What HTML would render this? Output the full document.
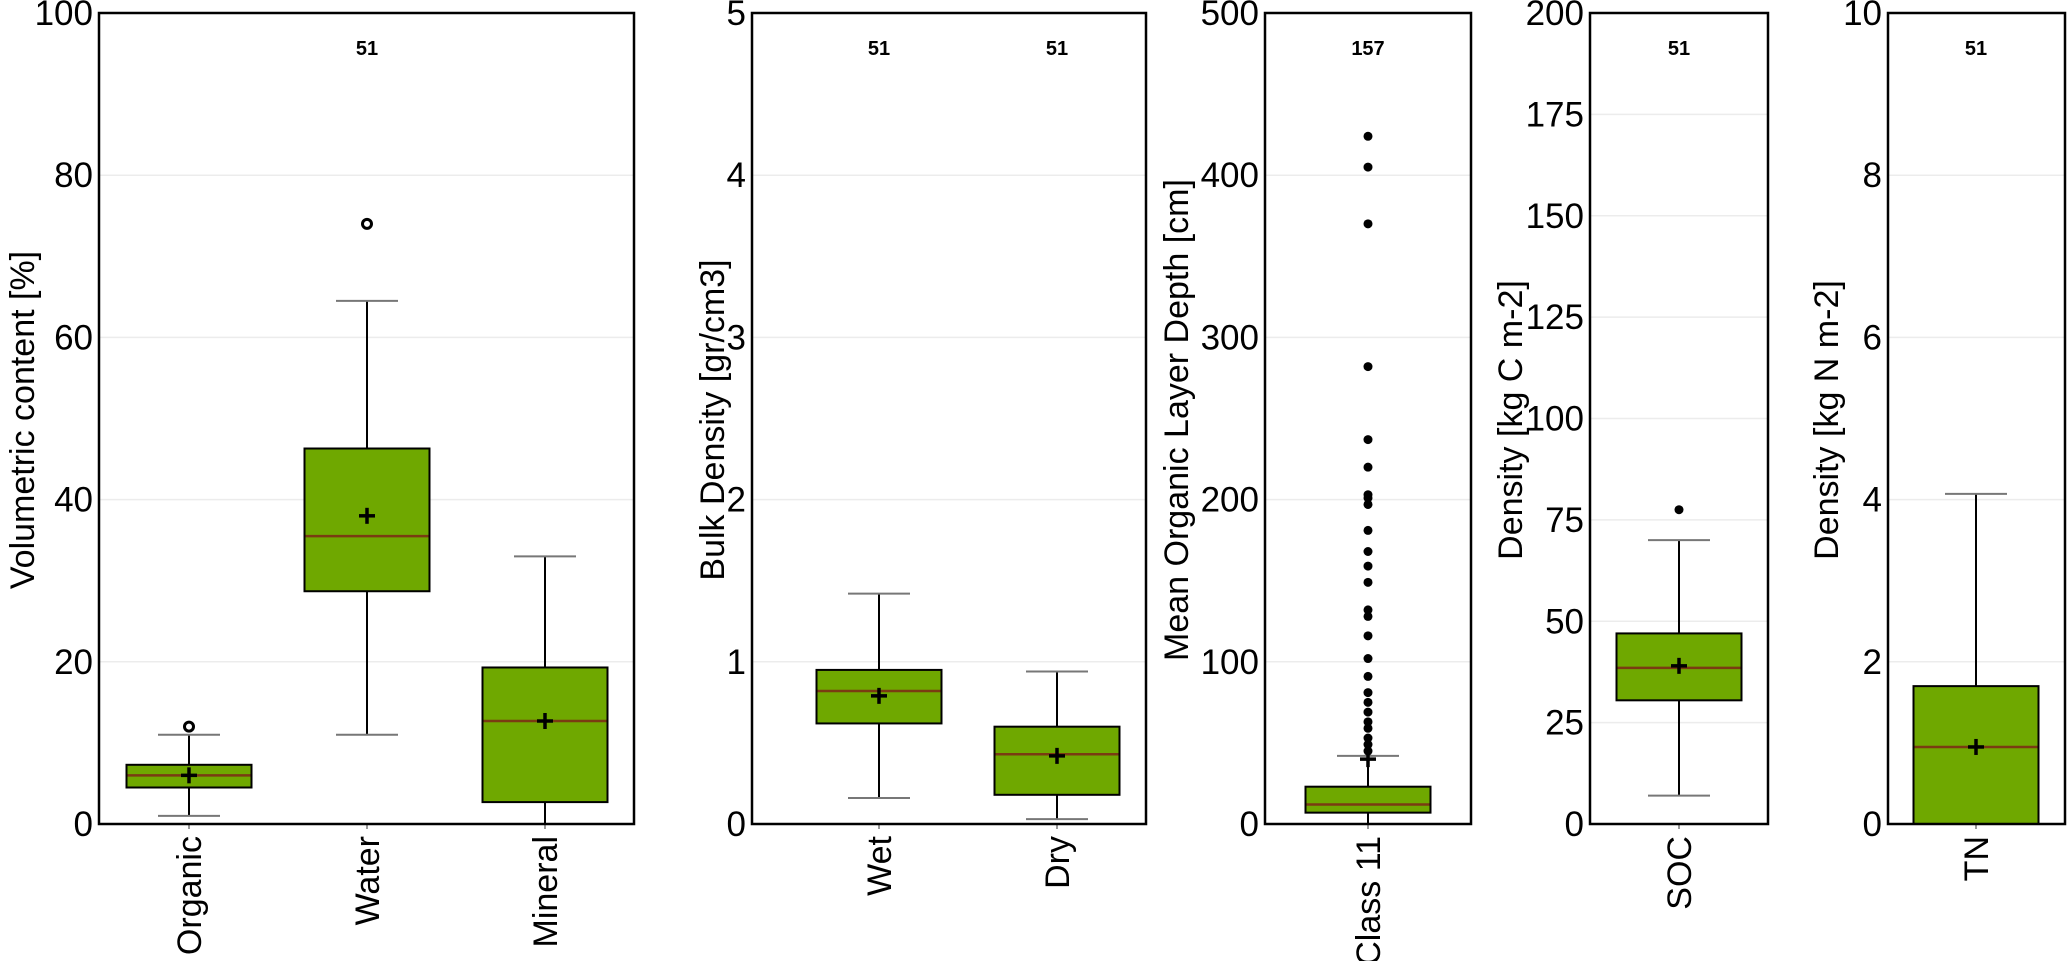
<!DOCTYPE html>
<html><head><meta charset="utf-8"><style>
html,body{margin:0;padding:0;background:#fff;}
svg{display:block;font-family:"Liberation Sans",Arial,sans-serif;}
</style></head><body>
<svg id="chart" width="2067" height="961" viewBox="0 0 2067 961"></svg>
<script>
// ---- data ----
const p1Categories = ["Organic","Water","Mineral"];
const p1Stats = [ // [lowWhisker, q1, median, q3, highWhisker, mean]
  [1, 4.5, 6, 7.3, 11, 6],
  [11, 28.7, 35.5, 46.3, 64.5, 38],
  [0, 2.7, 12.7, 19.3, 33, 12.7]
];
const p1Outliers = [[12],[74],[]];
const p1Ticks = [0,20,40,60,80,100];
const p2Categories = ["Wet","Dry"];
const p2Stats = [
  [0.16, 0.62, 0.82, 0.95, 1.42, 0.79],
  [0.03, 0.18, 0.43, 0.60, 0.94, 0.42]
];
const p2Outliers = [[],[]];
const p2Ticks = [0,1,2,3,4,5];
const p3Categories = ["Class 11"];
const p3Stats = [[0, 7, 12, 23, 42, 40]];
const p3Outliers = [[424,405,370,282,237,220,203,201,197,181,168,159,149,132,128,116,102,91,81,75,69,63,59,53,49,45]];
const p3Ticks = [0,100,200,300,400,500];
const p4Categories = ["SOC"];
const p4Stats = [[7, 30.5, 38.5, 47, 70, 39]];
const p4Outliers = [[77.5]];
const p4Ticks = [0,25,50,75,100,125,150,175,200];
const p5Categories = ["TN"];
const p5Stats = [[0, 0, 0.95, 1.7, 4.07, 0.95]];
const p5Outliers = [[]];
const p5Ticks = [0,2,4,6,8,10];
const counts = [["","51",""],["51","51"],["157"],["51"],["51"]];

const panels = [
  {name:"volumetric-content", left:99, right:634, centers:[189,367,545], max:100, cats:p1Categories, stats:p1Stats, out:p1Outliers, ticks:p1Ticks, title:"Volumetric content [%]", tx:22, ring:true, n:counts[0]},
  {name:"bulk-density", left:752, right:1146, centers:[879,1057], max:5, cats:p2Categories, stats:p2Stats, out:p2Outliers, ticks:p2Ticks, title:"Bulk Density [gr/cm3]", tx:712, n:counts[1]},
  {name:"organic-layer-depth", left:1265, right:1471, centers:[1368], max:500, cats:p3Categories, stats:p3Stats, out:p3Outliers, ticks:p3Ticks, title:"Mean Organic Layer Depth [cm]", tx:1176, n:counts[2]},
  {name:"soc-density", left:1590, right:1768, centers:[1679], max:200, cats:p4Categories, stats:p4Stats, out:p4Outliers, ticks:p4Ticks, title:"Density [kg C m-2]", tx:1510, n:counts[3]},
  {name:"tn-density", left:1888, right:2065, centers:[1976], max:10, cats:p5Categories, stats:p5Stats, out:p5Outliers, ticks:p5Ticks, title:"Density [kg N m-2]", tx:1826, n:counts[4]}
];
const TOP=13, BOT=824, BW=125, CAP=62;
const NS="http://www.w3.org/2000/svg";
const svg=document.getElementById('chart');
function mk(tag, attrs, parent, text){
  const e=document.createElementNS(NS,tag);
  for(const k in attrs) e.setAttribute(k,attrs[k]);
  if(text!==undefined) e.textContent=text;
  (parent||svg).appendChild(e); return e;
}
panels.forEach((p,pi)=>{
  const y=v=>BOT-(v/p.max)*(BOT-TOP);
  const g=mk('g',{});
  
  
  p.ticks.forEach(t=>{
    if(t>0 && t<p.max){
      const gl=mk('line',{x1:p.left,x2:p.right,y1:y(t),y2:y(t),stroke:'#ececec','stroke-width':1.5},g);
      
      
    }
    const tl=mk('text',{x:p.left-6,y:y(t)+12,'text-anchor':'end','font-size':35,fill:'#000'},g,String(t));
    
    
  });
  const cy=420;
  const tt=mk('text',{x:p.tx,y:cy,'text-anchor':'middle','font-size':34,fill:'#000',transform:`rotate(-90 ${p.tx} ${cy}) translate(0 12)`},g,p.title);
  
  
  p.cats.forEach((c,i)=>{
    const cx=p.centers[i], s=p.stats[i];
    const bg=mk('g',{},g);
    
    
    mk('line',{x1:cx,x2:cx,y1:y(s[4]),y2:y(s[3]),stroke:'#000','stroke-width':2},bg);
    mk('line',{x1:cx,x2:cx,y1:y(s[1]),y2:y(s[0]),stroke:'#000','stroke-width':2},bg);
    mk('line',{x1:cx-CAP/2,x2:cx+CAP/2,y1:y(s[4]),y2:y(s[4]),stroke:'#777','stroke-width':2},bg);
    if(s[0]>0) mk('line',{x1:cx-CAP/2,x2:cx+CAP/2,y1:y(s[0]),y2:y(s[0]),stroke:'#777','stroke-width':2},bg);
    mk('rect',{x:cx-BW/2,y:y(s[3]),width:BW,height:Math.max(0,y(s[1])-y(s[3])),fill:'#6fa800',stroke:'#000','stroke-width':2},bg);
    mk('line',{x1:cx-BW/2+1,x2:cx+BW/2-1,y1:y(s[2]),y2:y(s[2]),stroke:'#7a3b12','stroke-width':2.5},bg);
    const my=y(s[5]);
    mk('line',{x1:cx-8,x2:cx+8,y1:my,y2:my,stroke:'#000','stroke-width':3.5},bg);
    mk('line',{x1:cx,x2:cx,y1:my-8,y2:my+8,stroke:'#000','stroke-width':3.5},bg);
    p.out[i].forEach(v=>{
      const o = p.ring ? mk('circle',{cx:cx,cy:y(v),r:4.5,fill:'none',stroke:'#000','stroke-width':3},bg)
                       : mk('circle',{cx:cx,cy:y(v),r:4.5,fill:'#000'},bg);
      
      
    });
    mk('line',{x1:cx,x2:cx,y1:BOT,y2:BOT+5,stroke:'#777','stroke-width':1.5},g);
    const xl=mk('text',{x:cx,y:BOT+12,'text-anchor':'end','font-size':34,fill:'#000',transform:`rotate(-90 ${cx} ${BOT+12}) translate(0 12)`},g,c);
    
    
    if(p.n[i]){
      const nl=mk('text',{x:cx,y:55,'text-anchor':'middle','font-size':20,'font-weight':'bold',fill:'#000'},g,p.n[i]);
      
      
    }
  });
  const fr=mk('rect',{x:p.left,y:TOP,width:p.right-p.left,height:BOT-TOP,fill:'none',stroke:'#000','stroke-width':2.5},g);
  
  
});
</script>
</body></html>
